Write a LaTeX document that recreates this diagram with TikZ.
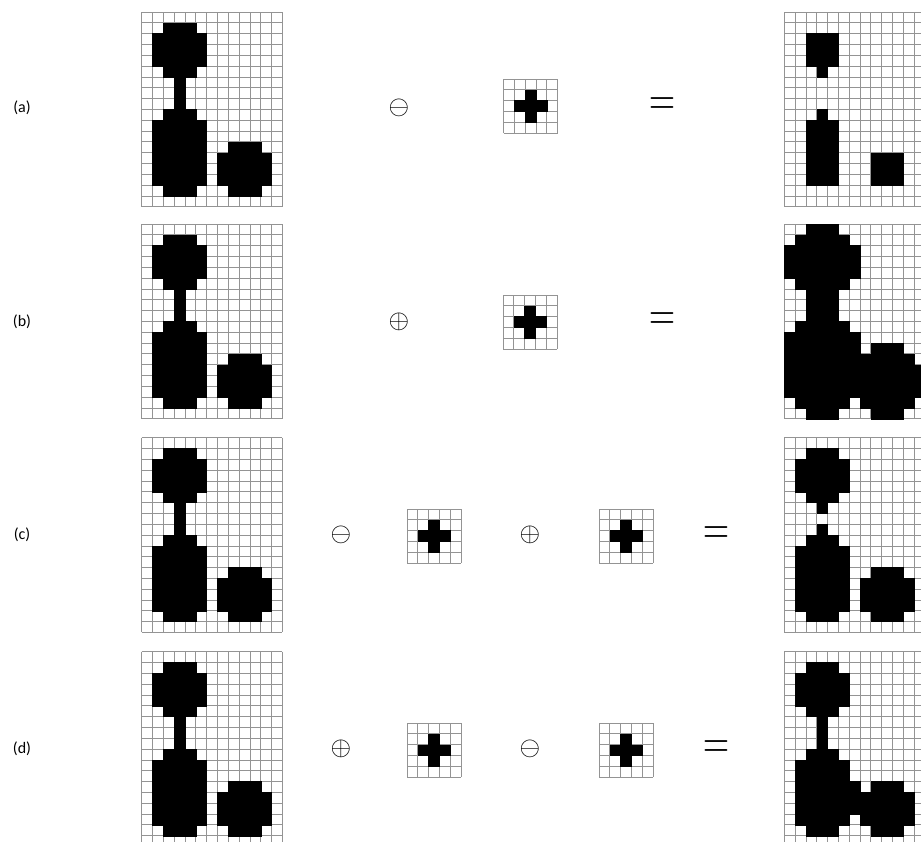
\documentclass[tikz,border=0pt]{standalone}
\usepackage{fontspec}
\setmainfont{Carlito}
\usepackage{graphicx}
\usepackage{tikz}
\usetikzlibrary{positioning}

\newcommand{\cellsz}{10.82}
\newcommand{\pixgrid}[4]{%
  \foreach \i in {0,...,#3} \draw[gridline] (#1+\i*\cellsz, #2) -- ++(0, #4*\cellsz);
  \foreach \j in {0,...,#4} \draw[gridline] (#1, #2+\j*\cellsz) -- ++(#3*\cellsz, 0);
}
\newcommand{\pixfill}[3]{%
  \foreach \r/\a/\b in #3
    \filldraw[pix] (#1+\a*\cellsz, #2+\r*\cellsz) rectangle ++(\b*\cellsz-\a*\cellsz+\cellsz, \cellsz);
}
\newcommand{\pixpanel}[5]{\pixgrid{#1}{#2}{#3}{#4}\pixfill{#1}{#2}{#5}}
\newcommand{\opminus}{\scalebox{2.65}{$\ominus$}}
\newcommand{\opplus}{\scalebox{2.65}{$\oplus$}}
\newcommand{\opeq}{\scalebox{3.4}[4.6]{$=$}}

\def\srcpix{1/2/4, 2/1/5, 3/1/5, 4/1/5, 5/2/4, 6/3/3, 7/3/3, 8/3/3, 9/2/4,
  10/1/5, 11/1/5, 12/1/5, 13/1/5, 14/1/5, 15/1/5, 16/2/4,
  12/8/10, 13/7/11, 14/7/11, 15/7/11, 16/8/10}
\def\crosspix{1/2/2, 2/1/3, 3/2/2}
\def\erodepix{2/2/4, 3/2/4, 4/2/4, 5/3/3, 9/3/3,
  10/2/4, 11/2/4, 12/2/4, 13/2/4, 14/2/4, 15/2/4,
  13/8/10, 14/8/10, 15/8/10}
\def\dilatepix{0/2/4, 1/1/5, 2/0/6, 3/0/6, 4/0/6, 5/1/5, 6/2/4, 7/2/4, 8/2/4,
  9/1/5, 10/0/6, 11/0/6, 11/8/10, 12/0/11, 13/0/12, 14/0/12, 15/0/12,
  16/1/5, 16/7/11, 17/2/4, 17/8/10}
\def\openpix{1/2/4, 2/1/5, 3/1/5, 4/1/5, 5/2/4, 6/3/3, 8/3/3, 9/2/4,
  10/1/5, 11/1/5, 12/1/5, 13/1/5, 14/1/5, 15/1/5, 16/2/4,
  12/8/10, 13/7/11, 14/7/11, 15/7/11, 16/8/10}
\def\closepix{1/2/4, 2/1/5, 3/1/5, 4/1/5, 5/2/4, 6/3/3, 7/3/3, 8/3/3, 9/2/4,
  10/1/5, 11/1/5, 12/1/6, 12/8/10, 13/1/11, 14/1/11, 15/1/5, 15/7/11,
  16/2/4, 16/8/10}

\begin{document}
\begin{tikzpicture}[
  x=1pt, y=-1pt,
  gridline/.style={draw=black!42, line width=0.8pt},
  pix/.style={fill=black, draw=black, line width=0.3pt},
  tag/.style={font=\fontsize{16}{16}\selectfont, inner sep=0pt},
  op/.style={inner sep=0pt}
]
\useasboundingbox (0,0) rectangle (921,841);
\clip (0,0) rectangle (921,841);

\pixpanel{141.7}{12}{13}{18}{\srcpix}
\pixpanel{503.5}{79}{5}{5}{\crosspix}
\pixpanel{784.3}{12}{13}{18}{\erodepix}
\node[tag] (la) at (22,108) {(a)};
\node[op] (opa) at (399,108) {\opminus};
\node[op] (eqa) at (662,106) {\opeq};

\pixpanel{141.7}{224}{13}{18}{\srcpix}
\pixpanel{503}{295}{5}{5}{\crosspix}
\pixpanel{784.3}{224}{13}{18}{\dilatepix}
\node[tag] (lb) at (22,322) {(b)};
\node[op] (opb) at (399,322) {\opplus};
\node[op] (eqb) at (662,321) {\opeq};

\pixpanel{141.7}{437.7}{13}{18}{\srcpix}
\pixpanel{407}{509}{5}{5}{\crosspix}
\pixpanel{599}{509}{5}{5}{\crosspix}
\pixpanel{784.3}{437.7}{13}{18}{\openpix}
\node[tag] (lc) at (22,535) {(c)};
\node[op] (opc1) at (341,535) {\opminus};
\node[op] (opc2) at (530,535) {\opplus};
\node[op] (eqc) at (716,535) {\opeq};

\pixpanel{141.7}{651.7}{13}{18}{\srcpix}
\pixpanel{407}{723}{5}{5}{\crosspix}
\pixpanel{599}{723}{5}{5}{\crosspix}
\pixpanel{784.3}{651.7}{13}{18}{\closepix}
\node[tag] (ld) at (22,749) {(d)};
\node[op] (opd1) at (341,749) {\opplus};
\node[op] (opd2) at (530,749) {\opminus};
\node[op] (eqd) at (716,749) {\opeq};
\end{tikzpicture}
\end{document}
